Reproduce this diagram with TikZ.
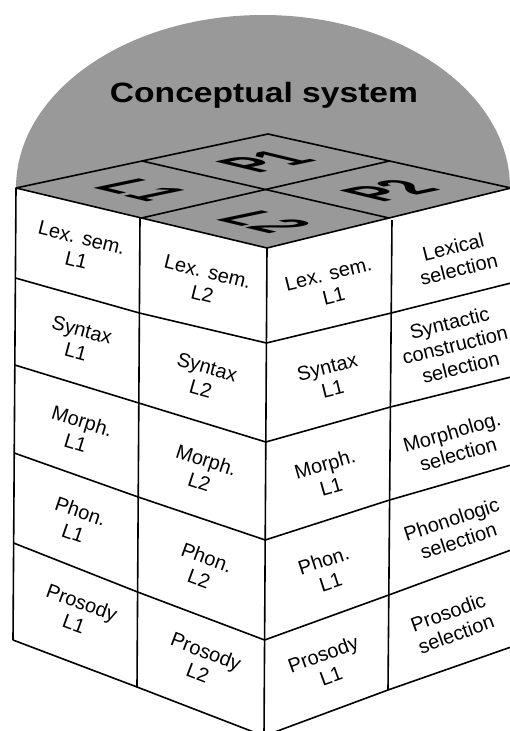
\documentclass[tikz,border=0pt]{standalone}
\usepackage{fontspec}
\setmainfont{Liberation Sans}
\usetikzlibrary{calc}

\tikzset{
  boxline/.style={line width=1.6pt, line join=round},
  grayfill/.style={fill=black!40},
  cellnode/.style={font=\fontsize{20}{23}\selectfont, align=center, inner sep=0pt},
  leftcell/.style={cellnode, rotate=-#1},
  rightcell/.style={cellnode, rotate=#1},
  floorL/.style={font=\fontsize{20}{20}\selectfont\bfseries, inner sep=0pt,
    cm={2.5,-0.6,3.3,0.69,(0,0)}},
  floorP/.style={font=\fontsize{20}{20}\selectfont\bfseries, inner sep=0pt,
    cm={2.5,0.525,-3.3,0.79,(0,0)}},
  titlenode/.style={font=\fontsize{28}{30}\selectfont\bfseries, xscale=1.2,
    inner sep=0pt, anchor=base},
}

\begin{document}
\begin{tikzpicture}[x=1pt, y=-1pt]

\fill[white] (0,0) rectangle (510,731);
\useasboundingbox (0,0) rectangle (510,731);

% dome
\begin{scope}
  \clip (0,0) rectangle (510,188);
  \fill[grayfill] (263,188) ellipse [x radius=247, y radius=173];
\end{scope}

% grid points, row by row
\foreach \r/\ya/\yb/\yc/\yd/\ye in {0/188/218/248/220/188, 1/278/313/343/313/283,
    2/365/403/442/407/377, 3/453/497/540/500/465, 4/543/592/640/595/550,
    5/640/687/736/690/647} {
  \coordinate (l\r) at ({16-0.6*\r},\ya);
  \coordinate (m\r) at ({140-0.6*\r},\yb);
  \coordinate (f\r) at ({267-0.6*\r},\yc);
  \coordinate (n\r) at ({392-0.8*\r},\yd);
  \coordinate (r\r) at (511,\ye);
}
\coordinate (back) at (268,134);

% top face
\fill[grayfill] (l0) -- (back) -- (r0) -- (f0) -- cycle;
\draw[boxline] (l0) -- (back) -- (r0) -- (f0) -- cycle;
\draw[boxline] ($(l0)!0.5!(back)$) -- ($(f0)!0.5!(r0)$);
\draw[boxline] ($(l0)!0.5!(f0)$) -- ($(back)!0.5!(r0)$);

% side faces
\foreach \r in {1,...,5}
  \draw[boxline] (l\r) -- (m\r) -- (f\r) -- (n\r) -- (r\r);
\draw[boxline] (l0) -- (l5);
\draw[boxline] (m0) -- (m5);
\draw[boxline] (f0) -- (f5);
\draw[boxline] (n0) -- (n5);
\draw[boxline] (r0) -- (r5);

% labels on the top
\node[titlenode] (concept) at (264,102) {Conceptual system};
\node[floorL] (topL1) at (142,190) {L1};
\node[floorP] (topP1) at (265,162) {P1};
\node[floorP] (topP2) at (389,191) {P2};
\node[floorL] (topL2) at (265,222) {L2};

% left face
\node[leftcell=14] (lexa) at (79,249) {Lex. sem.\\L1};
\node[leftcell=15] (syna) at (79,341) {Syntax\\L1};
\node[leftcell=17] (mora) at (79,432) {Morph.\\L1};
\node[leftcell=19] (phoa) at (77,522) {Phon.\\L1};
\node[leftcell=20] (psya) at (78,613) {Prosody\\L1};

\node[leftcell=14] (lexb) at (205,283) {Lex. sem.\\L2};
\node[leftcell=16] (synb) at (204,378) {Syntax\\L2};
\node[leftcell=18] (morb) at (203,471) {Morph.\\L2};
\node[leftcell=20] (phob) at (203,568) {Phon.\\L2};
\node[leftcell=21] (psyb) at (202,662) {Prosody\\L2};

% right face
\node[rightcell=14] (lexc) at (331,285) {Lex. sem.\\L1};
\node[rightcell=14] (sync) at (330,378) {Syntax\\L1};
\node[rightcell=16] (morc) at (328,475) {Morph.\\L1};
\node[rightcell=18] (phoc) at (327,571) {Phon.\\L1};
\node[rightcell=20] (psyc) at (327,665) {Prosody\\L1};

\node[rightcell=14] (lexsel) at (456,258) {Lexical\\selection};
\node[rightcell=14] (synsel) at (455,345) {Syntactic\\construction\\selection};
\node[rightcell=16] (morsel) at (455,443) {Morpholog.\\selection};
\node[rightcell=18] (phosel) at (455,530) {Phonologic\\selection};
\node[rightcell=20] (psysel) at (452,623) {Prosodic\\selection};

\end{tikzpicture}
\end{document}
